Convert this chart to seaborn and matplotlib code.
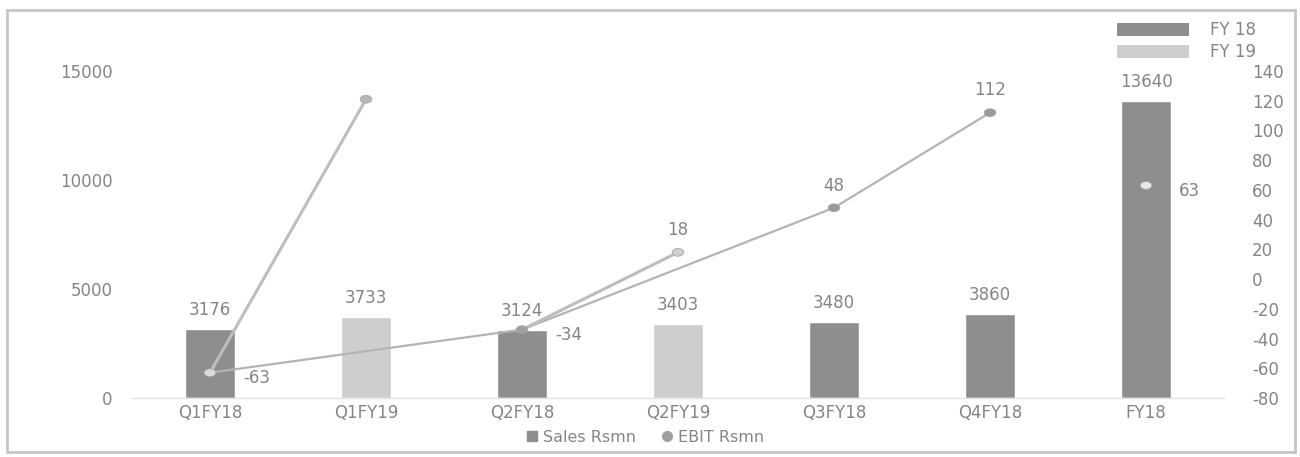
import matplotlib
matplotlib.use("Agg")
import matplotlib.pyplot as plt
import numpy as np
import pandas as pd
import seaborn as sns
from matplotlib.patches import Rectangle, Patch
from matplotlib.lines import Line2D
from matplotlib.path import Path

# ---- data -------------------------------------------------------------
categories = ["Q1FY18", "Q1FY19", "Q2FY18", "Q2FY19", "Q3FY18", "Q4FY18", "FY18"]
fiscal_year = ["FY 18", "FY 19", "FY 18", "FY 19", "FY 18", "FY 18", "FY 18"]
sales = [3176, 3733, 3124, 3403, 3480, 3860, 13640]
ebit = [-63, 121, -34, 18, 48, 112, 63]
ebit_label_side = ["right", None, "right", "above", "above", "above", "right"]

# EBIT connectors: FY18 quarterly trend and year-on-year links
quarter_trend = ["Q1FY18", "Q2FY18", "Q3FY18", "Q4FY18"]
yoy_links = [("Q1FY18", "Q1FY19"), ("Q2FY18", "Q2FY19")]

sales_ticks = [0, 5000, 10000, 15000]
ebit_ticks = list(range(-80, 141, 20))

# ---- style ------------------------------------------------------------
sns.set_theme(style="white")
plt.rcParams["font.family"] = ["DejaVu Sans"]
plt.rcParams["axes.unicode_minus"] = False

TEXT = "#858585"
DARK = "#8e8e8e"
LIGHT = "#cecece"
LINE = "#b4b4b4"
FS = 12

df = pd.DataFrame({"category": categories, "year": fiscal_year,
                   "sales": sales, "ebit": ebit})
df["pos"] = np.arange(len(df))
by_cat = df.set_index("category")

# slightly flattened ellipse marker
theta = np.linspace(0, 2 * np.pi, 41)
ellipse = Path(np.column_stack([1.5 * np.cos(theta), np.sin(theta)]), closed=True)

fig = plt.figure(figsize=(13, 4.57), dpi=100)
ax = fig.add_axes([132 / 1300, 1 - 398 / 457, (1224 - 132) / 1300, (398 - 71) / 457])

sns.barplot(data=df, x="category", y="sales", hue="year", order=categories,
            palette={"FY 18": DARK, "FY 19": LIGHT}, dodge=False, width=0.32,
            saturation=1, legend=False, ax=ax)
ax.set_ylim(0, 15000)
ax.set_xlim(-0.5, len(categories) - 0.5)
ax.set_yticks(sales_ticks)
ax.set_xlabel("")
ax.set_ylabel("")
ax.tick_params(axis="y", length=0, pad=14, labelsize=FS, labelcolor=TEXT)
ax.tick_params(axis="x", length=0, pad=4, labelsize=FS, labelcolor=TEXT)
for side in ["top", "right", "left"]:
    ax.spines[side].set_visible(False)
ax.spines["bottom"].set_color("#e3e3e3")
ax.spines["bottom"].set_linewidth(1)

for i, s in enumerate(sales):
    ax.annotate(f"{s}", (i, s), xytext=(0, 7), textcoords="offset points",
                ha="center", va="bottom", fontsize=FS, color=TEXT)

# ---- EBIT on secondary axis -------------------------------------------
ax2 = ax.twinx()
ax2.set_ylim(-80, 140)
ax2.set_yticks(ebit_ticks)
ax2.tick_params(axis="y", length=0, pad=20, labelsize=FS, labelcolor=TEXT)
for side in ax2.spines:
    ax2.spines[side].set_visible(False)

trend = by_cat.loc[quarter_trend]
sns.lineplot(x=trend["pos"].values, y=trend["ebit"].values, sort=False,
             color=LINE, linewidth=1.6, ax=ax2)
for a, b in yoy_links:
    link = by_cat.loc[[a, b]]
    sns.lineplot(x=link["pos"].values, y=link["ebit"].values, sort=False,
                 color="#bdbdbd", linewidth=2.2, ax=ax2)

marker_colors = {"Q1FY18": "#dcdcdc", "Q1FY19": "#b8b8b8", "Q2FY18": "#a0a0a0",
                 "Q2FY19": "#cfcfcf", "Q3FY18": "#989898", "Q4FY18": "#9a9a9a",
                 "FY18": "#e8e8e8"}
sns.scatterplot(data=df, x="pos", y="ebit", hue="category", palette=marker_colors,
                marker=ellipse, s=70, edgecolor="#a8a8a8", linewidth=0.6,
                legend=False, zorder=5, ax=ax2)
ax2.set_xlabel("")
ax2.set_ylabel("")

for i, (v, side) in enumerate(zip(ebit, ebit_label_side)):
    if side == "right":
        ax2.annotate(f"{v}", (i, v), xytext=(24, -4), textcoords="offset points",
                     ha="left", va="center", fontsize=FS, color=TEXT)
    elif side == "above":
        ax2.annotate(f"{v}", (i, v), xytext=(0, 16), textcoords="offset points",
                     ha="center", va="center", fontsize=FS, color=TEXT)

# ---- legends ------------------------------------------------------------
year_handles = [Patch(facecolor=DARK, edgecolor="none"),
                Patch(facecolor=LIGHT, edgecolor="none")]
fig.legend(year_handles, ["FY 18", "FY 19"], loc="upper left",
           bbox_to_anchor=(1117 / 1300, 1 - 21 / 457), frameon=False,
           borderpad=0, borderaxespad=0, handlelength=4.3, handleheight=0.85,
           handletextpad=1.3, labelspacing=0.25, fontsize=FS, labelcolor=TEXT)

series_handles = [Line2D([], [], marker="s", linestyle="none", markersize=7,
                         markerfacecolor=DARK, markeredgecolor=DARK),
                  Line2D([], [], marker="o", linestyle="none", markersize=7,
                         markerfacecolor="#a0a0a0", markeredgecolor="#a0a0a0")]
fig.legend(series_handles, ["Sales Rsmn", "EBIT Rsmn"], loc="center",
           bbox_to_anchor=(645 / 1300, 1 - 437 / 457), ncol=2, frameon=False,
           borderpad=0, handlelength=0.8, handletextpad=0.3, columnspacing=1.5,
           fontsize=11.5, labelcolor=TEXT)

# outer frame
fig.add_artist(Rectangle((7 / 1300, 5 / 457), (1295 - 7) / 1300, (447 - 5) / 457,
                         transform=fig.transFigure, fill=False,
                         edgecolor="#c6c6c6", linewidth=2))

fig.savefig("out.png", dpi=100, facecolor="white")
